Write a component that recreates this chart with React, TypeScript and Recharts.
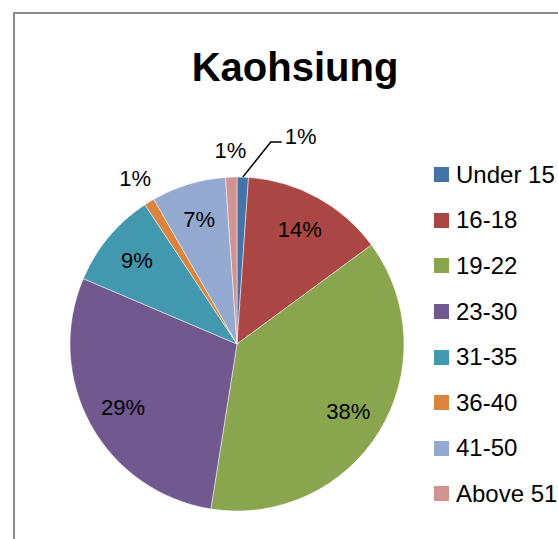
import { Cell, Legend, Pie, PieChart } from "recharts";

const ageGroups = ["Under 15", "16-18", "19-22", "23-30", "31-35", "36-40", "41-50", "Above 51"];
const shares = [1.1, 13.8, 37.6, 28.9, 9.3, 1.0, 7.2, 1.1];
const colors = ["#4572A7", "#AA4643", "#89A54E", "#71588F", "#4198AF", "#DB843D", "#93A9CF", "#D19392"];

const data = ageGroups.map((name, i) => ({ name, value: shares[i] }));

const FONT = "'Liberation Sans', Arial, sans-serif";
const RADIAN = Math.PI / 180;

const renderLabel = (props: any) => {
  const { cx, cy, midAngle, outerRadius, percent, index } = props;
  const text = Math.round(percent * 100) + "%";
  const cos = Math.cos(-midAngle * RADIAN);
  const sin = Math.sin(-midAngle * RADIAN);
  if (index === 0) {
    // small first slice: label pulled out with an elbow leader line
    const sx = cx + outerRadius * cos;
    const sy = cy + outerRadius * sin;
    const ex = sx + 28;
    const ey = sy - 35;
    return (
      <g>
        <polyline points={`${sx},${sy} ${ex},${ey} ${ex + 11},${ey}`} fill="none" stroke="#000" strokeWidth={1.5} />
        <text x={ex + 14} y={ey - 6} fontSize={22} fontFamily={FONT} fill="#000" dominantBaseline="central">
          {text}
        </text>
      </g>
    );
  }
  const r = percent < 0.05 ? outerRadius + 27 : outerRadius * 0.78;
  return (
    <text
      x={cx + r * cos}
      y={cy + r * sin}
      fontSize={22}
      fontFamily={FONT}
      fill="#000"
      textAnchor="middle"
      dominantBaseline="central"
    >
      {text}
    </text>
  );
};

const renderLegend = () => (
  <div style={{ fontFamily: FONT, fontSize: 24, color: "#000" }}>
    {ageGroups.map((g, i) => (
      <div key={g} style={{ display: "flex", alignItems: "center", height: 45.6 }}>
        <span style={{ width: 15, height: 15, background: colors[i], marginRight: 7, display: "inline-block" }} />
        <span style={{ whiteSpace: "nowrap" }}>{g}</span>
      </div>
    ))}
  </div>
);

export default function App() {
  return (
    <div style={{ position: "absolute", left: 0, top: 0, width: 558, height: 539, overflow: "hidden", background: "#fff" }}>
      <div
        style={{
          position: "absolute",
          left: 13,
          top: 12,
          width: 600,
          height: 600,
          borderLeft: "2px solid #8a8a8a",
          borderTop: "2px solid #8a8a8a",
        }}
      />
      <div
        style={{
          position: "absolute",
          left: 0,
          top: 47,
          width: 590,
          textAlign: "center",
          fontFamily: FONT,
          fontWeight: "bold",
          fontSize: 40,
          lineHeight: "40px",
        }}
      >
        Kaohsiung
      </div>
      <div style={{ position: "absolute", left: 0, top: 0 }}>
        <PieChart width={558} height={539} margin={{ top: 0, right: 0, bottom: 0, left: 0 }}>
          <Pie
            data={data}
            dataKey="value"
            nameKey="name"
            cx={237}
            cy={344}
            outerRadius={167}
            startAngle={90}
            endAngle={-270}
            stroke="#fff"
            strokeWidth={0.5}
            label={renderLabel}
            labelLine={false}
            isAnimationActive={false}
          >
            {data.map((d, i) => (
              <Cell key={d.name} fill={colors[i]} />
            ))}
          </Pie>
          <Legend content={renderLegend} layout="vertical" wrapperStyle={{ left: 434, top: 152, width: 124 }} />
        </PieChart>
      </div>
    </div>
  );
}
